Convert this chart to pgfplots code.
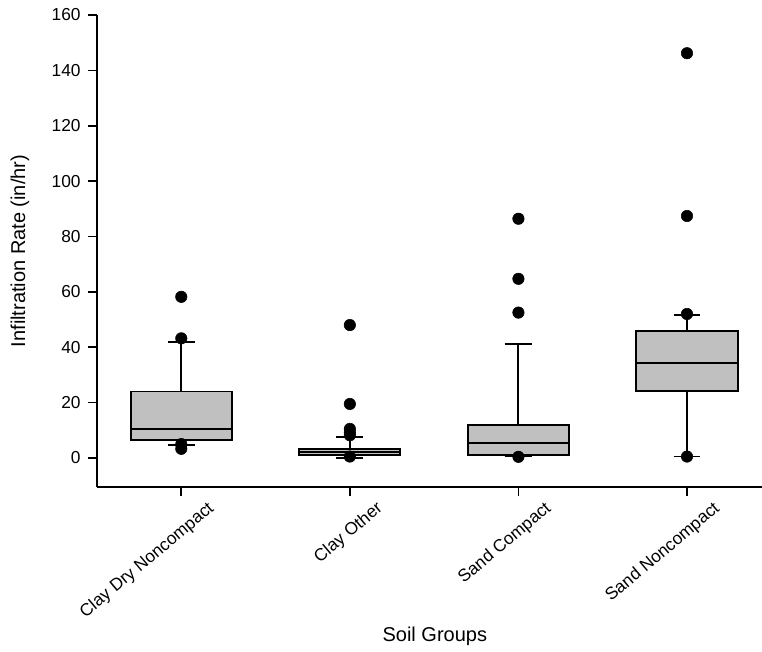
\documentclass[border=0pt]{standalone}
\usepackage{pgfplots}
\pgfplotsset{compat=1.18}
\usepackage{fontspec}
\setmainfont{Liberation Sans}
\definecolor{boxgray}{RGB}{192,192,192}
\begin{document}
\begin{tikzpicture}
\begin{axis}[
  scale only axis,
  width=498.75pt, height=354pt,
  xmin=0.5, xmax=4.445,
  ymin=-10.5, ymax=160,
  axis x line=bottom, axis y line=left,
  axis line style={-, line width=1.3pt},
  tick style={line width=1.3pt, black},
  tick align=outside,
  major tick length=6.75pt,
  xtick={1,2,3,4},
  xticklabels={Clay Dry Noncompact, Clay Other, Sand Compact, Sand Noncompact},
  ytick={0,20,40,60,80,100,120,140,160},
  /pgf/number format/assume math mode=true,
  ticklabel style={font=\fontsize{13}{15}\selectfont},
  yticklabel style={xshift=-2pt},
  xticklabel style={xshift=19pt, yshift=-3pt, rotate=40, anchor=north east, inner sep=0pt},
  xlabel={Soil Groups}, ylabel={Infiltration Rate (in/hr)},
  label style={font=\fontsize{15}{17}\selectfont},
  xlabel style={at={(axis description cs:0.508,-0.3157)}, anchor=center},
  ylabel style={at={(axis description cs:-0.1158,0.5)}, anchor=center},
  bx/.style={line width=1.4pt, draw=black, fill=boxgray, mark=none},
  ln/.style={line width=1.4pt, draw=black, mark=none},
  ol/.style={only marks, mark=*, mark size=4.3pt, mark options={fill=black, draw=black}},
]
% Clay Dry Noncompact
\addplot[ln] coordinates {(1,24.0) (1,42.0)};
\addplot[ln] coordinates {(0.92,42.0) (1.08,42.0)};
\addplot[ln] coordinates {(1,6.6) (1,4.7)};
\addplot[ln] coordinates {(0.92,4.7) (1.08,4.7)};
\addplot[bx] coordinates {(0.7,6.6) (1.3,6.6) (1.3,24.0) (0.7,24.0)} -- cycle;
\addplot[ln] coordinates {(0.7,10.3) (1.3,10.3)};
% Clay Other
\addplot[ln] coordinates {(2,3.3) (2,7.6)};
\addplot[ln] coordinates {(1.92,7.6) (2.08,7.6)};
\addplot[ln] coordinates {(2,1.2) (2,0.0)};
\addplot[ln] coordinates {(1.92,0.0) (2.08,0.0)};
\addplot[bx] coordinates {(1.7,1.2) (2.3,1.2) (2.3,3.3) (1.7,3.3)} -- cycle;
\addplot[ln] coordinates {(1.7,2.2) (2.3,2.2)};
% Sand Compact
\addplot[ln] coordinates {(3,11.8) (3,41.2)};
\addplot[ln] coordinates {(2.92,41.2) (3.08,41.2)};
\addplot[ln] coordinates {(2.92,0.5) (3.08,0.5)};
\addplot[bx] coordinates {(2.7,1.0) (3.3,1.0) (3.3,11.8) (2.7,11.8)} -- cycle;
\addplot[ln] coordinates {(2.7,5.5) (3.3,5.5)};
% Sand Noncompact
\addplot[ln] coordinates {(4,45.7) (4,51.5)};
\addplot[ln] coordinates {(3.92,51.5) (4.08,51.5)};
\addplot[ln] coordinates {(4,24.2) (4,0.5)};
\addplot[ln] coordinates {(3.92,0.5) (4.08,0.5)};
\addplot[bx] coordinates {(3.7,24.2) (4.3,24.2) (4.3,45.7) (3.7,45.7)} -- cycle;
\addplot[ln] coordinates {(3.7,34.2) (4.3,34.2)};
% outliers
\addplot[ol] coordinates {(1,58.2) (1,43.2) (1,5.0) (1,3.3)
  (2,48.0) (2,19.5) (2,10.5) (2,9.2) (2,8.2) (2,0.5)
  (3,86.4) (3,64.7) (3,52.5) (3,0.4)
  (4,146.2) (4,87.4) (4,52.0) (4,0.5)};
\coordinate (o) at (rel axis cs:0,0);
\end{axis}
\pgfresetboundingbox
\path (o) ++(-72.75pt,-123pt) rectangle ++(571.5pt,488.25pt);
\end{tikzpicture}
\end{document}
